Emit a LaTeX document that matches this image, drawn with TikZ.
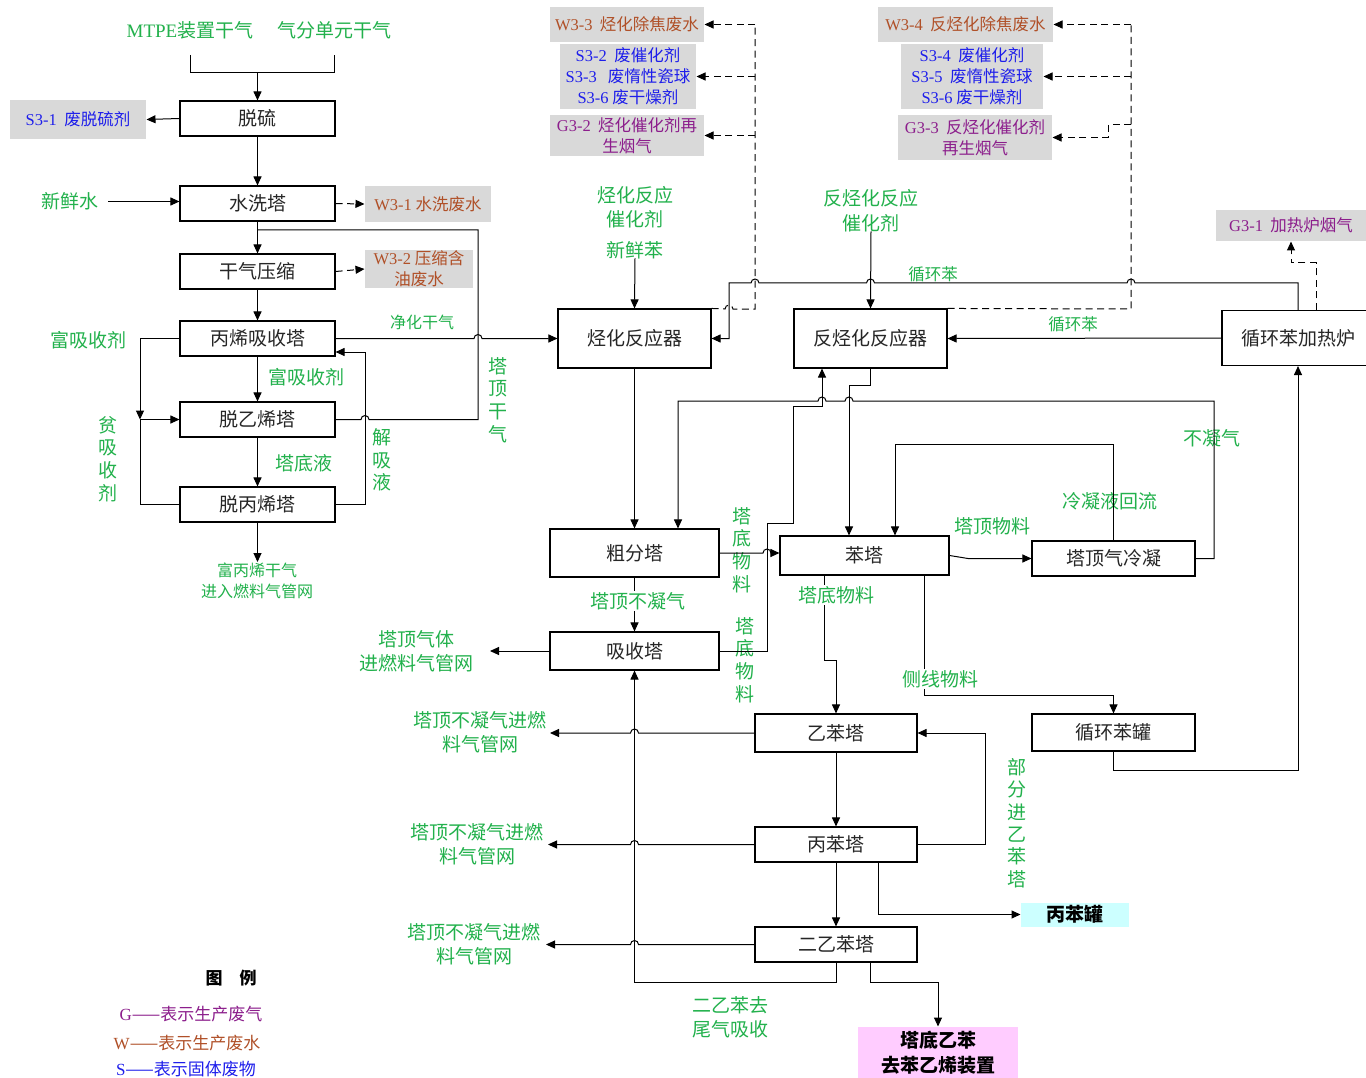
\documentclass[tikz,border=0pt]{standalone}
\usepackage{fontspec}
\setmainfont{Liberation Serif}
\newfontfamily\cjk{Noto Sans CJK SC}
\usetikzlibrary{arrows.meta}
\definecolor{lgreen}{RGB}{34,177,76}
\definecolor{wbrown}{RGB}{176,80,40}
\definecolor{sblue}{RGB}{30,30,235}
\definecolor{gpurple}{RGB}{140,30,140}
\definecolor{boxgray}{RGB}{217,217,217}
\definecolor{cyanbox}{RGB}{204,255,255}
\definecolor{pinkbox}{RGB}{255,204,255}
\newcommand\lat[1]{{\rmfamily #1}}
\begin{document}
\begin{tikzpicture}[x=1pt,y=-1pt,line width=1pt,
 blk/.style={draw,line width=1.1pt,fill=white,inner sep=0pt,font=\cjk\fontsize{19}{19}\selectfont,text=black!85},
 bx/.style 2 args={blk,minimum width=#1pt,minimum height=#2pt},
 lab/.style={text=lgreen,inner sep=1pt,font=\cjk\fontsize{19}{24}\selectfont,align=center},
 wlab/.style={lab,fill=white},
 vlab/.style={lab,font=\cjk\fontsize{19}{22.7}\selectfont},
 gbox/.style={fill=boxgray,inner sep=0pt,align=center,font=\cjk\fontsize{16.5}{21}\selectfont},
 arr/.style={-{Triangle[length=9pt,width=8pt]}},
 dsh/.style={dash pattern=on 7pt off 4.5pt},
]
\useasboundingbox (0,0) rectangle (1366,1078);
\fill[white] (0,0) rectangle (1366,1078);

% ---------- process boxes ----------
\node[bx={155}{35}] (tuoliu) at (257.5,118.5) {脱硫};
\node[bx={155}{35}] (shuixi) at (257.5,203.5) {水洗塔};
\node[bx={155}{35}] (ganqi) at (257.5,271.5) {干气压缩};
\node[bx={155}{35}] (bingxi) at (257.5,338.5) {丙烯吸收塔};
\node[bx={155}{35}] (tuoyi) at (257.5,419.5) {脱乙烯塔};
\node[bx={155}{35}] (tuobing) at (257.5,504.5) {脱丙烯塔};
\node[bx={153}{59}] (tinghua) at (634.5,338.5) {烃化反应器};
\node[bx={153}{59}] (fantinghua) at (870.5,338.5) {反烃化反应器};
\node[bx={152}{55}] (furnace) at (1298,338) {循环苯加热炉};
\node[bx={169}{48}] (cufen) at (634.5,553) {粗分塔};
\node[bx={169}{39}] (benta) at (864.5,555.5) {苯塔};
\node[bx={163}{35}] (lengning) at (1113.5,558.5) {塔顶气冷凝};
\node[bx={163}{37}] (guan) at (1113.5,732.5) {循环苯罐};
\node[bx={169}{38}] (xishou) at (634.5,651) {吸收塔};
\node[bx={162}{38}] (yiben) at (836,733) {乙苯塔};
\node[bx={162}{35}] (bingben) at (836,844.5) {丙苯塔};
\node[bx={162}{35}] (eryi) at (836,944.5) {二乙苯塔};
\node[fill=cyanbox,inner sep=0pt,minimum width=108pt,minimum height=24pt,font=\cjk\bfseries\fontsize{19}{19}\selectfont] (bbguan) at (1075,914.5) {丙苯罐};
\node[fill=pinkbox,inner sep=0pt,minimum width=160pt,minimum height=51pt,align=center,font=\cjk\bfseries\fontsize{19}{25}\selectfont] (pink) at (938,1052.5) {塔底乙苯\\去苯乙烯装置};

% ---------- emission boxes ----------
\node[gbox,minimum width=136pt,minimum height=39pt,text=sblue] (s31) at (78,119.5) {\lat{S3-1}\ \ 废脱硫剂};
\node[gbox,minimum width=126pt,minimum height=36pt,text=wbrown] (w31) at (428,204) {\lat{W3-1} 水洗废水};
\node[gbox,minimum width=108pt,minimum height=38pt,text=wbrown] (w32) at (419,269) {\lat{W3-2} 压缩含\\油废水};
\node[gbox,minimum width=154pt,minimum height=35pt,text=wbrown] (w33) at (627,24.5) {\lat{W3-3}\ \ 烃化除焦废水};
\node[gbox,minimum width=136pt,minimum height=65pt,text=sblue] (s32) at (628,76.5) {\lat{S3-2}\ \ 废催化剂\\\lat{S3-3}\ \ \ 废惰性瓷球\\\lat{S3-6} 废干燥剂};
\node[gbox,minimum width=154pt,minimum height=41pt,text=gpurple] (g32) at (627,135.5) {\lat{G3-2}\ \ 烃化催化剂再\\生烟气};
\node[gbox,minimum width=175pt,minimum height=35pt,text=wbrown] (w34) at (965.5,24.5) {\lat{W3-4}\ \ 反烃化除焦废水};
\node[gbox,minimum width=142pt,minimum height=65pt,text=sblue] (s34) at (972,76.5) {\lat{S3-4}\ \ 废催化剂\\\lat{S3-5}\ \ 废惰性瓷球\\\lat{S3-6} 废干燥剂};
\node[gbox,minimum width=154pt,minimum height=45pt,text=gpurple] (g33) at (975,137.5) {\lat{G3-3}\ \ 反烃化催化剂\\再生烟气};
\node[gbox,minimum width=150pt,minimum height=31pt,text=gpurple] (g31) at (1291,225.5) {\lat{G3-1}\ \ 加热炉烟气};

% ---------- labels ----------
\node[lab] (l_mtpe) at (190,30) {\lat{MTPE}装置干气};
\node[lab] (l_qifen) at (334,30) {气分单元干气};
\node[lab] (l_water) at (70,201.5) {新鲜水};
\node[lab] (l_fu1) at (88,340) {富吸收剂};
\node[vlab] (l_pin) at (108,459) {贫\\吸\\收\\剂};
\node[lab] (l_fu2) at (306,377) {富吸收剂};
\node[lab] (l_tdy) at (304,463) {塔底液};
\node[vlab] (l_jxy) at (382,460) {解\\吸\\液};
\node[lab,font=\cjk\fontsize{16}{16}\selectfont] (l_jhgq) at (422,322) {净化干气};
\node[vlab] (l_tdgq) at (498,400) {塔\\顶\\干\\气};
\node[lab,font=\cjk\fontsize{16}{21}\selectfont] (l_fbx) at (257,581) {富丙烯干气\\进入燃料气管网};
\node[lab] (l_thcat) at (635,207) {烃化反应\\催化剂};
\node[lab] (l_ben) at (635,250) {新鲜苯};
\node[lab,font=\cjk\fontsize{19}{25}\selectfont] (l_fthcat) at (871,210.5) {反烃化反应\\催化剂};
\node[lab,font=\cjk\fontsize{16.5}{16.5}\selectfont] (l_xhb1) at (933,274) {循环苯};
\node[lab,font=\cjk\fontsize{16.5}{16.5}\selectfont] (l_xhb2) at (1073,324) {循环苯};
\node[lab] (l_bnq) at (1212,438) {不凝气};
\node[lab] (l_lnyhl) at (1110,501) {冷凝液回流};
\node[lab] (l_tdwl) at (992,526) {塔顶物料};
\node[vlab] (l_tdwl1) at (742,550) {塔\\底\\物\\料};
\node[vlab] (l_tdwl2) at (745,660) {塔\\底\\物\\料};

% ---------- left section connectors ----------
\coordinate (f1) at (190,55);
\coordinate (f2) at (334,55);
\coordinate (fj) at (257.5,73);
\draw (f1) -- (190,73) -- (334,73) -- (f2);
\draw[arr] (fj) -- (tuoliu.north);
\draw[arr] (tuoliu.west) -- (s31.east);
\draw[arr] (tuoliu.south) -- (shuixi.north);
\draw[arr] (l_water.east) ++(8,0) -- (shuixi.west |- l_water.east);
\draw[arr,dsh] (shuixi.east) -- (w31.west);
\draw[arr] (shuixi.south) -- (ganqi.north);
\draw[arr,dsh] (ganqi.east) -- (w32.west);
\draw[arr] (ganqi.south) -- (bingxi.north);
\draw[arr] (bingxi.south) -- (tuoyi.north);
\draw[arr] (tuoyi.south) -- (tuobing.north);
\draw (tuoyi.east) -- (361,419.5) arc[start angle=180,end angle=0,radius=4pt] -- (478,419.5) -- (478,230) -- (257.5,230);
\draw[arr] (bingxi.east) -- (474,338.5) arc[start angle=180,end angle=0,radius=4pt] -- (tinghua.west);
\coordinate (lj) at (140,419.5);
\draw[arr] (bingxi.west) -- (140,338.5) -- (lj);
\draw[arr] (lj) -- (tuoyi.west);
\draw (tuobing.west) -- (140,504.5) -- (lj);
\draw[arr] (tuobing.east) -- (365,504.5) -- (365,352) -- ([yshift=-13.5pt]bingxi.east);
\draw[arr] (tuobing.south) -- (257.5,562);

% ---------- reactors ----------
\draw[arr] (l_ben.south) ++(0,-2) -- (tinghua.north);
\draw[arr] (l_fthcat.south) ++(0,-2) -- (fantinghua.north);
\draw[arr] (tinghua.south) -- (cufen.north);
\draw[arr] (furnace.north) -- (1298,283) -- (1135,283) arc[start angle=0,end angle=180,radius=4pt]
  -- (874.5,283) arc[start angle=0,end angle=180,radius=4pt]
  -- (759,283) arc[start angle=0,end angle=180,radius=4pt]
  -- (729,283) -- (729,338.5) -- (tinghua.east);
\draw[arr] (furnace.west) -- (fantinghua.east);

% dashed emission lines (alkylation)
\coordinate (d1) at (755,24.5);
\coordinate (d2) at (755,76.5);
\coordinate (d3) at (755,135.5);
\draw[dsh] (tinghua.north east) -- (725,309) arc[start angle=180,end angle=0,radius=4pt] -- (755,309) -- (d1);
\draw[arr,dsh] (d1) -- (w33.east);
\draw[arr,dsh] (d2) -- (s32.east);
\draw[arr,dsh] (d3) -- (g32.east);
% dashed emission lines (transalkylation)
\coordinate (e1) at (1131,24.5);
\coordinate (e2) at (1131,76.5);
\coordinate (e3) at (1131,125);
\draw[dsh] (fantinghua.north east) -- (1131,309) -- (e1);
\draw[arr,dsh] (e1) -- (w34.east);
\draw[arr,dsh] (e2) -- (s34.east);
\draw[arr,dsh] (e3) -- (1108,125) -- (1108,137.5) -- (g33.east);
% furnace flue gas
\draw[arr,dsh] ([xshift=18pt]furnace.north) -- (1316,263) -- (1291,263) -- (g31.south);

% ---------- distillation section ----------
\draw[arr] (lengning.east) -- (1214,558.5) -- (1214,401)
  -- (853,401) arc[start angle=0,end angle=180,radius=4pt]
  -- (826,401) arc[start angle=0,end angle=180,radius=4pt]
  -- (678,401) -- ([xshift=43.5pt]cufen.north);
\draw[arr] (fantinghua.south) -- (870.5,385) -- (849,385) -- ([xshift=-15.5pt]benta.north);
\draw[arr] (lengning.north) -- (1113.5,444) -- (895,444) -- ([xshift=30.5pt]benta.north);
\draw[arr] (benta.east) -- (968,558.5) -- (lengning.west);
\draw[arr] (xishou.east) -- (767,651) -- (767,523) -- (793,523) -- (793,406) -- (822,406) -- ([xshift=-48.5pt]fantinghua.south);
\draw[arr] (cufen.east) -- (763,553) arc[start angle=180,end angle=0,radius=4pt] -- (benta.west |- cufen.east);
\draw[arr] ([xshift=-40.5pt]benta.south) -- (824,660) -- (836,660) -- (yiben.north);
\draw[arr] ([xshift=59.5pt]benta.south) -- (924,695) -- (1113.5,695) -- (guan.north);
\draw[arr] (guan.south) -- (1113.5,770) -- (1298,770) -- (furnace.south);
\draw[arr] (cufen.south) -- (xishou.north);
\draw[arr] (xishou.west) -- (490,651);
\draw[arr] (eryi.south) -- (836,982) -- (634.5,982) -- (xishou.south);
\draw[arr] (yiben.west) -- (638.5,733) arc[start angle=0,end angle=180,radius=4pt] -- (550,733);
\draw[arr] (bingben.west) -- (638.5,844.5) arc[start angle=0,end angle=180,radius=4pt] -- (548,844.5);
\draw[arr] (eryi.west) -- (638.5,944.5) arc[start angle=0,end angle=180,radius=4pt] -- (546,944.5);
\draw[arr] (yiben.south) -- (bingben.north);
\draw[arr] (bingben.south) -- (eryi.north);
\draw[arr] (bingben.east) -- (985,844.5) -- (985,733) -- (yiben.east);
\draw[arr] ([xshift=42pt]bingben.south) -- (878,914.5) -- (bbguan.west);
\draw[arr] ([xshift=34pt]eryi.south) -- (870,982) -- (938,982) -- (pink.north);

% labels that sit on lines
\node[wlab] (l_tdwl3) at (836,595) {塔底物料};
\node[wlab] (l_cxwl) at (940,679) {侧线物料};
\node[wlab] (l_tdbnq) at (638,601) {塔顶不凝气};
\node[lab] (l_tdqt) at (416,651) {塔顶气体\\进燃料气管网};
\node[lab] (l_n1) at (480,732) {塔顶不凝气进燃\\料气管网};
\node[lab] (l_n2) at (477,844) {塔顶不凝气进燃\\料气管网};
\node[lab] (l_n3) at (474,944) {塔顶不凝气进燃\\料气管网};
\node[vlab,font=\cjk\fontsize{19}{22.4}\selectfont] (l_bf) at (1017,823) {部\\分\\进\\乙\\苯\\塔};
\node[lab] (l_eyb) at (730,1017) {二乙苯去\\尾气吸收};

% ---------- legend ----------
\node[font=\cjk\bfseries\fontsize{17}{17}\selectfont] (legend) at (231,978) {图\quad 例};
\node[font=\cjk\fontsize{17}{17}\selectfont,text=gpurple] (lg) at (191,1014) {\lat{G}——表示生产废气};
\node[font=\cjk\fontsize{17}{17}\selectfont,text=wbrown] (lw) at (187,1043) {\lat{W}——表示生产废水};
\node[font=\cjk\fontsize{17}{17}\selectfont,text=sblue] (ls) at (186,1069) {\lat{S}——表示固体废物};
\end{tikzpicture}
\end{document}
